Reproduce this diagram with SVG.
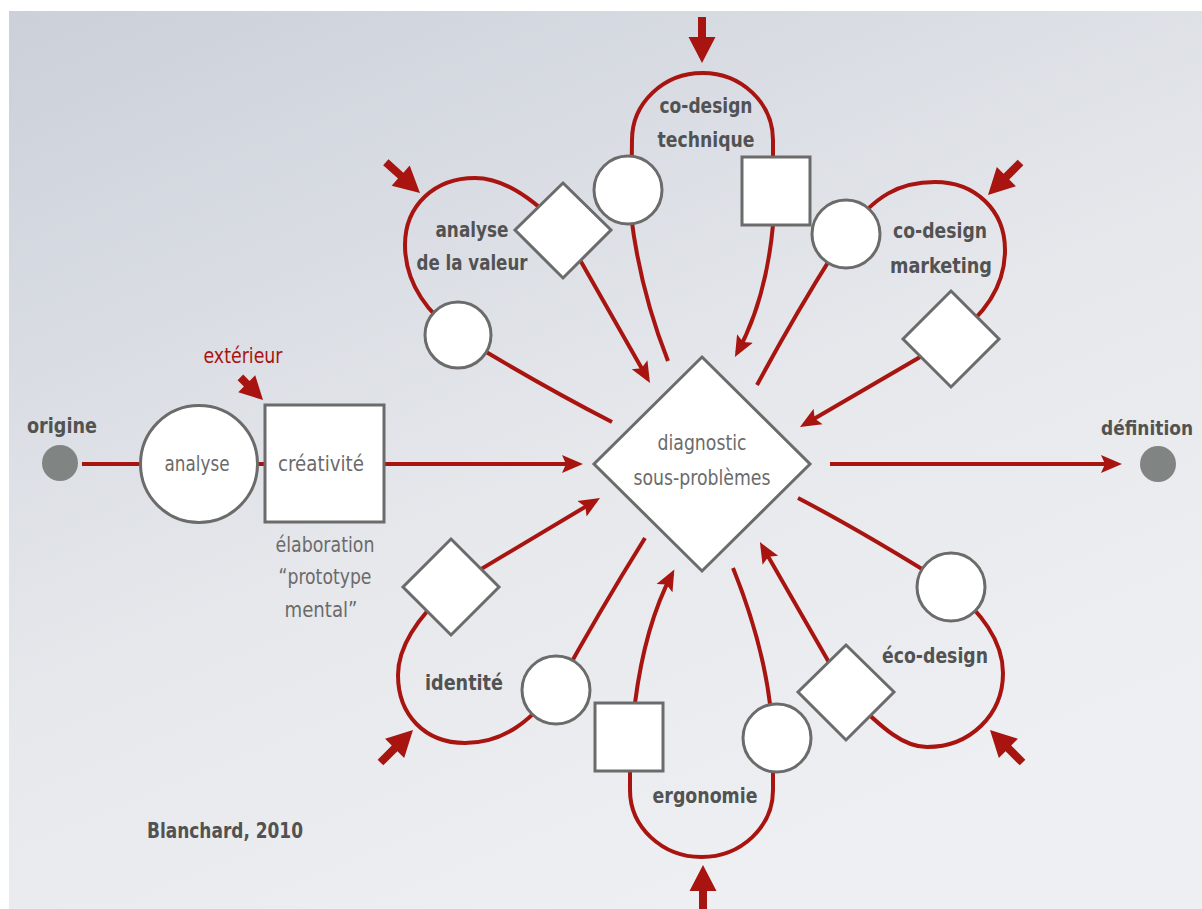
<svg xmlns="http://www.w3.org/2000/svg" xmlns:xlink="http://www.w3.org/1999/xlink" width="1202" height="909" viewBox="0 0 1202 909">
<defs>
<linearGradient id="bg" x1="0" y1="0" x2="0.55" y2="1">
<stop offset="0" stop-color="#cbd0d9"/>
<stop offset="0.6" stop-color="#e6e8ec"/>
<stop offset="1" stop-color="#eeeff2"/>
</linearGradient>
<marker id="ah" markerUnits="userSpaceOnUse" markerWidth="22" markerHeight="20" refX="16" refY="9" orient="auto" viewBox="0 0 22 18">
<path d="M0,0 L21,9 L0,18 L4,9 z" fill="#a8140f"/>
</marker>
<path id="big" d="M-4,-46 L4,-46 L4,-26 L13.5,-26 L0,0 L-13.5,-26 L-4,-26 z" fill="#a8140f"/>
<path id="small" d="M-4,-32 L4,-32 L4,-23 L12,-23 L0,0 L-12,-23 L-4,-23 z" fill="#a8140f"/>
</defs>
<style>
.c{fill:none;stroke:#a8140f;stroke-width:4;stroke-linecap:butt}
.n{fill:#fff;stroke:#6b6b6b;stroke-width:3}
.dot{fill:#808482}
text{font-family:"Liberation Sans Narrow","DejaVu Sans Condensed","Liberation Sans",Arial,sans-serif;text-anchor:middle}
.lb{font-weight:bold;font-size:22px;fill:#525252}
.lr{font-size:21px;fill:#6b6b6b}
.ex{font-size:21px;fill:#a8140f}
</style>
<rect x="0" y="0" width="1202" height="909" fill="#ffffff"/>
<rect x="9" y="11" width="1193" height="898" fill="url(#bg)"/>

<g id="connectors">
<path class="c" d="M82,464 L578,464" marker-end="url(#ah)"/>
<path class="c" d="M830,464 L1117,464" marker-end="url(#ah)"/>
<path class="c" d="M668,361 Q640,290 631,215 L632,140 A70.5,67 0 0 1 773,140 L773,225 Q766,300 737.3,352.5" marker-end="url(#ah)"/>
<path class="c" d="M612,422 Q540,385 458,335 C430,315 405,285 405,245 C405,205 435,178 475,178 C505,178 535,200 563,230 L647.5,378.6" marker-end="url(#ah)"/>
<path class="c" d="M757,385 Q800,305 846,234 C875,195 900,182 935,182 C975,182 1005,210 1005,250 C1005,285 985,315 951,339 L804.3,424.5" marker-end="url(#ah)"/>
<path class="c" d="M645,538 Q600,610 556,690 C530,720 505,743 465,743 C425,743 398,715 398,675 C398,645 420,615 451,587 L595.7,500.6" marker-end="url(#ah)"/>
<path class="c" d="M733,568 Q762,640 770,704 L773,772 L773,790 A71.5,67 0 0 1 630,790 L630,772 L635,703 Q645,625 672,574" marker-end="url(#ah)"/>
<path class="c" d="M798,498 Q865,533 951,587 C980,612 1003,640 1003,673 C1003,715 970,747 927,747 C905,747 885,732 846,692 L762.4,546.4" marker-end="url(#ah)"/>
<use xlink:href="#big" transform="translate(702,63)"/>
<use xlink:href="#big" transform="translate(420,193) rotate(-48)"/>
<use xlink:href="#big" transform="translate(988,195) rotate(45)"/>
<use xlink:href="#big" transform="translate(413,730) rotate(-135)"/>
<use xlink:href="#big" transform="translate(703,865) rotate(180)"/>
<use xlink:href="#big" transform="translate(990,730) rotate(135)"/>
<use xlink:href="#small" transform="translate(263,400) rotate(-45)"/>
</g>

<g id="origine"><circle class="dot" cx="60" cy="463" r="18"/><text class="lb" x="62" y="433" textLength="70" lengthAdjust="spacingAndGlyphs">origine</text></g>
<g id="analyse"><circle class="n" cx="199" cy="464" r="58.5"/><text class="lr" x="197" y="471" textLength="65" lengthAdjust="spacingAndGlyphs">analyse</text></g>
<g id="creativite"><rect class="n" x="265" y="405" width="119" height="117"/><text class="lr" x="321" y="471" textLength="86" lengthAdjust="spacingAndGlyphs">créativité</text></g>
<g id="exterieur"><text class="ex" x="243" y="363" textLength="79" lengthAdjust="spacingAndGlyphs">extérieur</text></g>
<g id="elaboration">
<text class="lr" x="325" y="552" textLength="99" lengthAdjust="spacingAndGlyphs">élaboration</text>
<text class="lr" x="325" y="584" textLength="93" lengthAdjust="spacingAndGlyphs">“prototype</text>
<text class="lr" x="321" y="617" textLength="73" lengthAdjust="spacingAndGlyphs">mental”</text>
</g>
<g id="diagnostic"><path class="n" d="M702,357 L810,464 L702,571 L594,464 z"/>
<text class="lr" x="702" y="450" textLength="89" lengthAdjust="spacingAndGlyphs">diagnostic</text>
<text class="lr" x="702" y="485" textLength="137" lengthAdjust="spacingAndGlyphs">sous-problèmes</text></g>
<g id="definition"><circle class="dot" cx="1158" cy="464" r="18"/><text class="lb" x="1147" y="435" style="font-size:19px" textLength="92" lengthAdjust="spacingAndGlyphs">définition</text></g>

<g id="technique-circle"><circle class="n" cx="628" cy="190" r="34"/></g>
<g id="technique-square"><rect class="n" x="742" y="157" width="68" height="68"/></g>
<g id="technique-label"><text class="lb" x="706" y="113" textLength="93" lengthAdjust="spacingAndGlyphs">co-design</text><text class="lb" x="706" y="147" textLength="97" lengthAdjust="spacingAndGlyphs">technique</text></g>

<g id="valeur-circle"><circle class="n" cx="458" cy="335" r="33"/></g>
<g id="valeur-diamond"><path class="n" d="M563,183 L611,230 L563,278 L515,230 z"/></g>
<g id="valeur-label"><text class="lb" x="472" y="237" textLength="73" lengthAdjust="spacingAndGlyphs">analyse</text><text class="lb" x="472" y="270" textLength="111" lengthAdjust="spacingAndGlyphs">de la valeur</text></g>

<g id="marketing-circle"><circle class="n" cx="846" cy="234" r="34"/></g>
<g id="marketing-diamond"><path class="n" d="M951,291 L999,339 L951,387 L903,339 z"/></g>
<g id="marketing-label"><text class="lb" x="940" y="238" textLength="94" lengthAdjust="spacingAndGlyphs">co-design</text><text class="lb" x="941" y="273" textLength="102" lengthAdjust="spacingAndGlyphs">marketing</text></g>

<g id="identite-diamond"><path class="n" d="M451,539 L499,587 L451,635 L403,587 z"/></g>
<g id="identite-circle"><circle class="n" cx="556" cy="690" r="34"/></g>
<g id="identite-label"><text class="lb" x="464" y="690" textLength="78" lengthAdjust="spacingAndGlyphs">identité</text></g>

<g id="ergonomie-square"><rect class="n" x="595" y="703" width="68" height="68"/></g>
<g id="ergonomie-circle"><circle class="n" cx="777" cy="738" r="34"/></g>
<g id="ergonomie-label"><text class="lb" x="705" y="803" textLength="105" lengthAdjust="spacingAndGlyphs">ergonomie</text></g>

<g id="eco-circle"><circle class="n" cx="951" cy="587" r="34"/></g>
<g id="eco-diamond"><path class="n" d="M846,645 L894,692 L846,740 L798,692 z"/></g>
<g id="eco-label"><text class="lb" x="935" y="663" textLength="106" lengthAdjust="spacingAndGlyphs">éco-design</text></g>

<g id="credit"><text class="lb" x="225" y="838" textLength="156" lengthAdjust="spacingAndGlyphs">Blanchard, 2010</text></g>
</svg>
